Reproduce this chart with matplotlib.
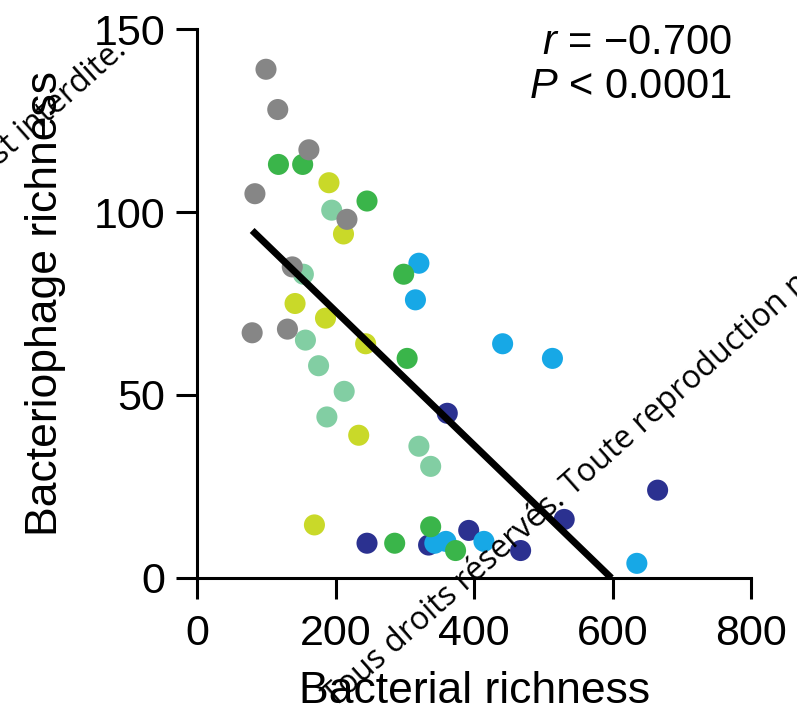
import matplotlib
matplotlib.use("Agg")
import matplotlib.pyplot as plt

plt.rcParams["font.family"] = ["Liberation Sans", "DejaVu Sans"]
plt.rcParams["mathtext.fontset"] = "custom"
plt.rcParams["mathtext.it"] = "Liberation Sans:italic"
plt.rcParams["mathtext.rm"] = "Liberation Sans"

# Richness per sample, grouped by site
gray_x = [99, 116, 161, 83, 216, 137, 79, 130]
gray_y = [139, 128, 117, 105, 98, 85, 67, 68]

mint_x = [194, 153, 156, 175, 212, 187, 320, 337]
mint_y = [100.5, 83, 65, 58, 51, 44, 36, 30.5]

yellow_x = [190, 211, 141, 185, 243, 233, 169]
yellow_y = [108, 94, 75, 71, 64, 39, 14.5]

green_x = [117, 152, 245, 298, 303, 285, 337, 373]
green_y = [113, 113, 103, 83, 60, 9.5, 14, 7.5]

blue_x = [320, 315, 441, 513, 343, 359, 414, 635]
blue_y = [86, 76, 64, 60, 9.5, 10, 10, 4]

navy_x = [361, 245, 334, 392, 467, 530, 665]
navy_y = [45, 9.5, 9, 13, 7.5, 16, 24]

groups = [
    (navy_x, navy_y, "#2b3190"),
    (blue_x, blue_y, "#17a8e6"),
    (mint_x, mint_y, "#82cea3"),
    (green_x, green_y, "#3ab54a"),
    (yellow_x, yellow_y, "#c9d929"),
    (gray_x, gray_y, "#868686"),
]

# Least-squares fit shown in the panel
fit_slope = -0.1829
fit_intercept = 109.4
r_text = "$r$ = \u22120.700"
p_text = "$P$ < 0.0001"

fig = plt.figure(figsize=(7.97, 7.18), dpi=100)
ax = fig.add_axes([0.2478, 0.195, 0.6945, 0.7646])

for xs, ys, color in groups:
    ax.scatter(xs, ys, s=230, color=color, edgecolors="none", zorder=3,
               clip_on=False)

all_x = gray_x + mint_x + yellow_x + green_x + blue_x + navy_x
x0 = min(all_x)
x1 = -fit_intercept / fit_slope
ax.plot([x0, x1], [fit_intercept + fit_slope * x0, 0], color="black",
        lw=5, solid_capstyle="butt", zorder=4)

ax.set_xlim(0, 800)
ax.set_ylim(0, 150)
ax.set_xticks([0, 200, 400, 600, 800])
ax.set_yticks([0, 50, 100, 150])
for side in ["top", "right"]:
    ax.spines[side].set_visible(False)
for side in ["left", "bottom"]:
    ax.spines[side].set_linewidth(2.2)
ax.tick_params(direction="out", length=15, width=2.2, labelsize=31)
ax.tick_params(axis="x", pad=11)
ax.tick_params(axis="y", pad=8)

ax.set_xlabel("Bacterial richness", fontsize=32, labelpad=12)
ax.set_ylabel("Bacteriophage richness", fontsize=32, labelpad=20)

ax.text(0.965, 0.975, r_text, transform=ax.transAxes, ha="right", va="center",
        fontsize=30)
ax.text(0.965, 0.895, p_text, transform=ax.transAxes, ha="right", va="center",
        fontsize=30)

# copyright overlay
fig.text(335 / 797, 1 - 708 / 718,
         "Tous droits réservés. Toute reproduction non autorisée est interdite.",
         rotation=41.6, rotation_mode="anchor", ha="left", va="baseline",
         fontsize=23, family="Open Sans", color="black", zorder=10)
fig.text(128 / 797, 1 - 52 / 718, "est interdite.",
         rotation=41.6, rotation_mode="anchor", ha="right", va="baseline",
         fontsize=23, family="Open Sans", color="black", zorder=10)

fig.savefig("out.png", dpi=100)
